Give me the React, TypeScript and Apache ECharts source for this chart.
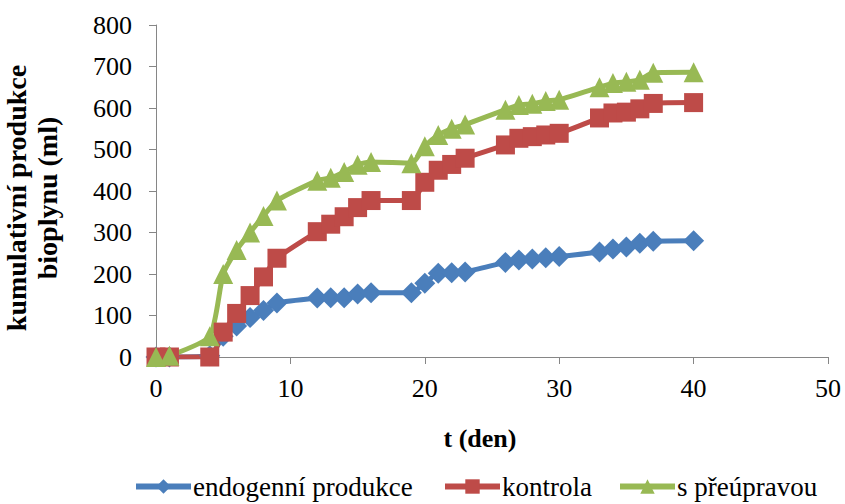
import React, { useEffect, useRef } from "react";
import * as echarts from "echarts";

const days = [0, 1, 4, 5, 6, 7, 8, 9, 12, 13, 14, 15, 16, 19, 20, 21, 22, 23, 26, 27, 28, 29, 30, 33, 34, 35, 36, 37, 40];
const endogenni = [0, 0, 3, 50, 75, 95, 112, 130, 142, 143, 143, 152, 155, 155, 178, 202, 203, 205, 228, 234, 236, 239, 242, 253, 260, 265, 274, 279, 280];
const kontrola = [0, 0, 0, 60, 105, 148, 193, 238, 302, 320, 338, 360, 377, 377, 421, 450, 464, 479, 511, 527, 531, 535, 539, 576, 588, 590, 598, 611, 613];
const preupravou = [0, 3, 50, 200, 258, 300, 340, 377, 425, 432, 446, 463, 470, 467, 508, 535, 550, 560, 596, 607, 610, 617, 620, 650, 660, 663, 668, 685, 686];
const seriesNames = ["endogenní produkce", "kontrola", "s přeúpravou"];

const FONT = "Liberation Serif";

export default function App() {
  const ref = useRef<HTMLDivElement>(null);
  useEffect(() => {
    document.body.style.margin = "0";
    const chart = echarts.init(ref.current!, null, { renderer: "svg" });
    const mk = (vals: number[]) => days.map((d, i) => [d, vals[i]]);
    const legendText = { fontFamily: FONT, fontSize: 27, color: "#000", padding: [0, 0, 0, -3] };
    const legendLefts = [133, 442, 617];
    chart.setOption({
      animation: false,
      textStyle: { fontFamily: FONT },
      grid: { left: 156, right: 17, top: 25, bottom: 147, containLabel: false, outerBoundsMode: "none" },
      legend: seriesNames.map((n, i) => ({
        top: 473,
        left: legendLefts[i],
        padding: 0,
        itemWidth: 55,
        itemHeight: 18,
        lineStyle: { width: 6 },
        textStyle: legendText,
        data: [{ name: n, textStyle: legendText }],
      })),
      xAxis: {
        type: "value",
        min: 0,
        max: 50,
        interval: 10,
        name: "t (den)",
        nameLocation: "middle",
        nameGap: 68,
        nameTextStyle: { fontFamily: FONT, fontSize: 26, fontWeight: "bold", color: "#000", padding: [0, 24, 0, 0] },
        axisLine: { show: true, lineStyle: { color: "#868686", width: 1 } },
        axisTick: { show: true, inside: false, length: 7, lineStyle: { color: "#868686" } },
        axisLabel: { fontFamily: FONT, fontSize: 26, color: "#000", margin: 18 },
        splitLine: { show: false },
      },
      yAxis: {
        type: "value",
        min: 0,
        max: 800,
        interval: 100,
        name: "kumulativní produkce\nbioplynu (ml)",
        nameLocation: "middle",
        nameRotate: 90,
        nameGap: 93,
        nameTextStyle: { fontFamily: FONT, fontSize: 28, fontWeight: "bold", color: "#000", lineHeight: 31, padding: [0, 14, 0, 0] },
        axisLine: { show: true, lineStyle: { color: "#868686", width: 1 } },
        axisTick: { show: true, inside: false, length: 7, lineStyle: { color: "#868686" } },
        axisLabel: { fontFamily: FONT, fontSize: 26, color: "#000", margin: 24 },
        splitLine: { show: false },
      },
      series: [
        {
          name: seriesNames[0],
          type: "line",
          data: mk(endogenni),
          smooth: 0.2,
          symbol: "diamond",
          symbolSize: 21,
          lineStyle: { color: "#4A7EBB", width: 5 },
          itemStyle: { color: "#4A7EBB" },
        },
        {
          name: seriesNames[1],
          type: "line",
          data: mk(kontrola),
          smooth: 0.2,
          symbol: "rect",
          symbolSize: 19,
          lineStyle: { color: "#BE4B48", width: 5 },
          itemStyle: { color: "#BE4B48" },
        },
        {
          name: seriesNames[2],
          type: "line",
          data: mk(preupravou),
          smooth: 0.2,
          symbol: "triangle",
          symbolSize: 20,
          lineStyle: { color: "#98B954", width: 5 },
          itemStyle: { color: "#98B954" },
        },
      ],
    });
    return () => chart.dispose();
  }, []);
  return <div ref={ref} style={{ width: 845, height: 504 }} />;
}
